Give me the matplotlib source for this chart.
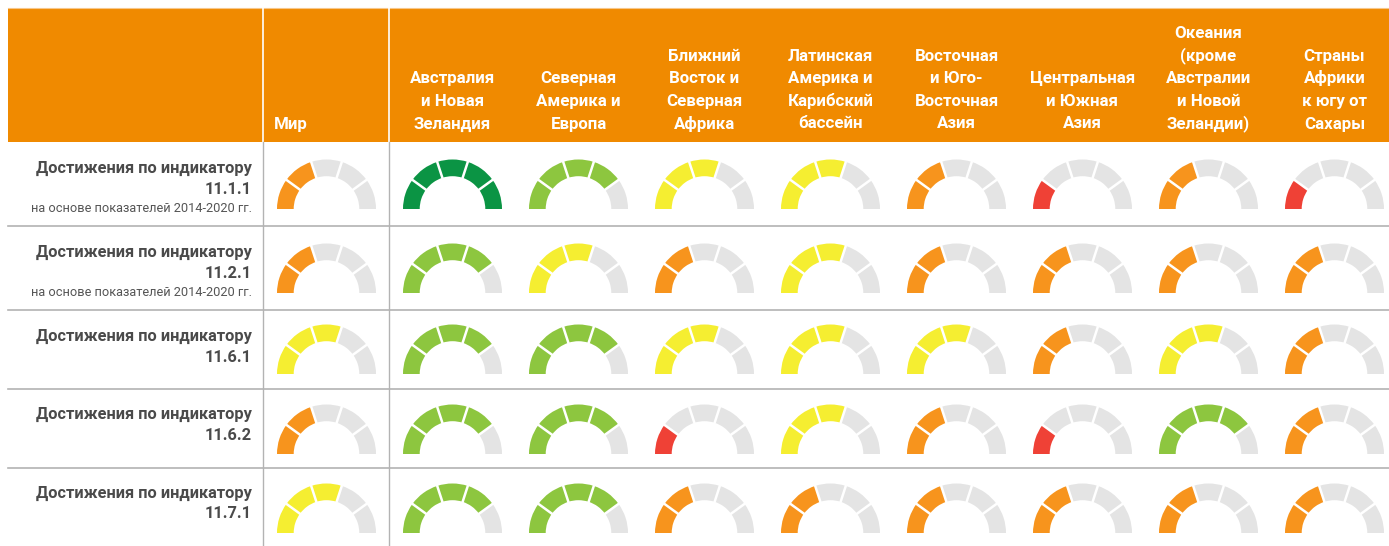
import matplotlib
matplotlib.use("Agg")
import matplotlib.pyplot as plt
from matplotlib.patches import Wedge, Rectangle
import numpy as np

plt.rcParams['font.family'] = ['Roboto', 'DejaVu Sans']

# ---------------- data ----------------
regions = [
    "Мир",
    "Австралия\nи Новая\nЗеландия",
    "Северная\nАмерика и\nЕвропа",
    "Ближний\nВосток и\nСеверная\nАфрика",
    "Латинская\nАмерика и\nКарибский\nбассейн",
    "Восточная\nи Юго-\nВосточная\nАзия",
    "Центральная\nи Южная\nАзия",
    "Океания\n(кроме\nАвстралии\nи Новой\nЗеландии)",
    "Страны\nАфрики\nк югу от\nСахары",
]
indicators = ["11.1.1", "11.2.1", "11.6.1", "11.6.2", "11.7.1"]
row_title = "Достижения по индикатору"
row_notes = ["на основе показателей 2014-2020 гг.",
             "на основе показателей 2014-2020 гг.", "", "", ""]

# achievement level (segments filled out of 5)
level_11_1_1 = [2, 5, 4, 3, 3, 2, 1, 2, 1]
level_11_2_1 = [2, 4, 3, 2, 3, 2, 2, 2, 2]
level_11_6_1 = [3, 4, 4, 3, 3, 3, 2, 3, 2]
level_11_6_2 = [2, 4, 4, 1, 3, 2, 1, 4, 2]
level_11_7_1 = [3, 4, 4, 2, 2, 2, 2, 2, 2]
levels = [level_11_1_1, level_11_2_1, level_11_6_1, level_11_6_2, level_11_7_1]

level_colors = {1: "#EF4136", 2: "#F7941D", 3: "#F5EE31", 4: "#8DC63F", 5: "#0B9444"}
gray = "#E4E4E4"
header_orange = "#F08A00"
line_gray = "#B3B3B3"
text_dark = "#4A4A4A"

# ---------------- figure ----------------
W, H = 1389, 546
fig = plt.figure(figsize=(W / 100, H / 100), dpi=100)
ax = fig.add_axes([0, 0, 1, 1])
ax.set_xlim(0, W)
ax.set_ylim(H, 0)
ax.axis("off")

# header
header_top, header_bot = 8, 142
ax.add_patch(Rectangle((8, header_top), W - 8, header_bot - header_top,
                       facecolor=header_orange, edgecolor="none", zorder=1))
ax.plot([8, W], [7.5, 7.5], color="#F7C78A", lw=0.8, zorder=1)
col_x0 = 263
col1_x = 389
for xv in (col_x0, col1_x):
    ax.plot([xv, xv], [header_top, header_bot], color="white", lw=1.2, zorder=2)

# row boundaries
row_edges = [142, 226, 310, 389, 468, 546]
for yv in row_edges[1:-1]:
    ax.plot([8, W], [yv, yv], color=line_gray, lw=1.2, zorder=2)
for xv in (col_x0, col1_x):
    ax.plot([xv, xv], [header_bot, H], color=line_gray, lw=1.0, zorder=2)

# column centers
col_centers = [326.5 + 126 * i for i in range(len(regions))]

# header labels
line_h = 22.6
last_base = 128.5
for i, lab in enumerate(regions):
    lines = lab.split("\n")
    n = len(lines)
    for k, ln in enumerate(lines):
        yb = last_base - (n - 1 - k) * line_h
        if i == 0:
            ax.text(274, yb, ln, color="white", fontsize=12.2, fontweight="bold",
                    ha="left", va="baseline", zorder=3)
        else:
            ax.text(col_centers[i], yb, ln, color="white", fontsize=12.2,
                    fontweight="bold", ha="center", va="baseline", zorder=3)

# row labels
gauge_base = [209, 293, 374, 454, 533]
label_base1 = [173, 257, 341, 419, 498]
for r, ind in enumerate(indicators):
    y1 = label_base1[r]
    ax.text(252, y1, row_title, color=text_dark, fontsize=11.8, fontweight="bold",
            ha="right", va="baseline", zorder=3)
    ax.text(252, y1 + 20.5, ind, color=text_dark, fontsize=11.8, fontweight="bold",
            ha="right", va="baseline", zorder=3)
    if row_notes[r]:
        ax.text(252, y1 + 38.5, row_notes[r], color="#555555", fontsize=9.2,
                ha="right", va="baseline", zorder=3)

# gauges
R_out, R_in = 49.5, 32.8
nseg = 5
for r, row in enumerate(levels):
    cy = gauge_base[r]
    for c, lvl in enumerate(row):
        cx = col_centers[c]
        for s in range(nseg):
            t1 = 180 + 36 * s
            t2 = t1 + 36
            fc = level_colors[lvl] if s < lvl else gray
            ax.add_patch(Wedge((cx, cy), R_out, t1, t2, width=R_out - R_in,
                               facecolor=fc, edgecolor="none", zorder=3))
        for s in range(1, nseg):
            th = np.deg2rad(180 + 36 * s)
            xs = [cx + (R_in - 1) * np.cos(th), cx + (R_out + 1) * np.cos(th)]
            ys = [cy + (R_in - 1) * np.sin(th), cy + (R_out + 1) * np.sin(th)]
            ax.plot(xs, ys, color="white", lw=1.8, zorder=4, solid_capstyle="butt")

fig.savefig("out.png", dpi=100, facecolor="white")
